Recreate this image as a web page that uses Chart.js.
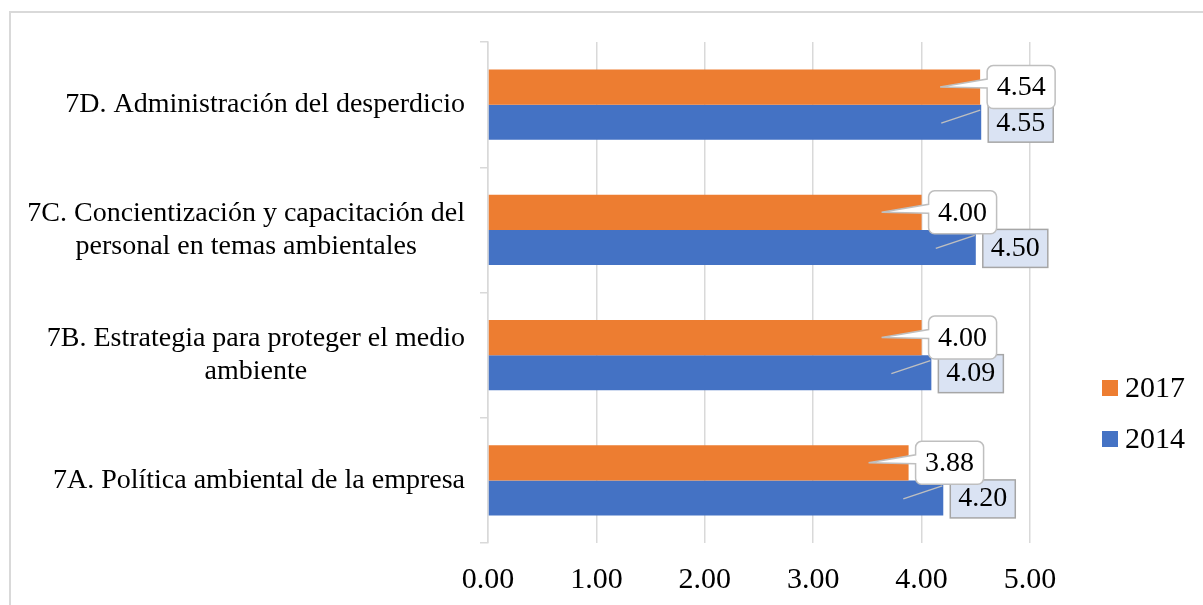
<!DOCTYPE html>
<html>
<head>
<meta charset="utf-8">
<script src="https://cdn.jsdelivr.net/npm/chart.js@4.4.1/dist/chart.umd.min.js"></script>
<style>
  html, body { margin: 0; padding: 0; background: #fff; }
  #wrap { width: 1203px; height: 605px; }
</style>
</head>
<body>
<div id="wrap"><canvas id="grafico"></canvas></div>
<script>
var categorias = [
    ['7D. Administración del desperdicio'],
    ['7C. Concientización y capacitación del', 'personal en temas ambientales'],
    ['7B. Estrategia para proteger el medio', 'ambiente'],
    ['7A. Política ambiental de la empresa']
];
var valores2017 = [4.54, 4.00, 4.00, 3.88];
var valores2014 = [4.55, 4.50, 4.09, 4.20];
var ticksX = [0, 1, 2, 3, 4, 5];

var FUENTE = '"Liberation Serif", "Times New Roman", serif';

// borde exterior gris claro
var bordeExterior = {
    id: 'bordeExterior',
    beforeDraw: function(chart) {
        var c = chart.ctx;
        c.save();
        c.fillStyle = '#fff';
        c.fillRect(0, 0, chart.width, chart.height);
        c.strokeStyle = '#d9d9d9';
        c.lineWidth = 2;
        c.strokeRect(10, 12, 1400, 800);
        c.restore();
    }
};

// etiquetas del eje Y, cada linea centrada en su bloque
var etiquetasY = {
    id: 'etiquetasY',
    afterDraw: function(chart) {
        var c = chart.ctx, y = chart.scales.y;
        c.save();
        c.font = '28px ' + FUENTE;
        c.fillStyle = '#000';
        c.textAlign = 'center';
        c.textBaseline = 'middle';
        var alto = 33;
        categorias.forEach(function(lineas, i) {
            var ancho = 0;
            lineas.forEach(function(l) { ancho = Math.max(ancho, c.measureText(l).width); });
            var cx = 465 - ancho / 2;
            var cy = y.getPixelForTick(i) - (lineas.length - 1) * alto / 2;
            lineas.forEach(function(l, k) { c.fillText(l, cx, cy + k * alto); });
        });
        c.restore();
    }
};

function rectRedondo(c, l, t, w, h, r) {
    c.moveTo(l + r, t);
    c.lineTo(l + w - r, t);
    c.arcTo(l + w, t, l + w, t + r, r);
    c.lineTo(l + w, t + h - r);
    c.arcTo(l + w, t + h, l + w - r, t + h, r);
    c.lineTo(l + r, t + h);
    c.arcTo(l, t + h, l, t + h - r, r);
}

// etiquetas de datos tipo llamada
var llamadas = {
    id: 'llamadas',
    afterDatasetsDraw: function(chart) {
        var c = chart.ctx;
        c.save();
        c.font = '28px ' + FUENTE;
        c.textAlign = 'center';
        c.textBaseline = 'middle';

        // 2014: caja azul clara con linea guia
        chart.getDatasetMeta(1).data.forEach(function(bar, i) {
            var x = bar.x, cy = bar.y;
            c.strokeStyle = '#bfbfbf';
            c.lineWidth = 1.5;
            c.beginPath();
            c.moveTo(x - 40, cy + 1);
            c.lineTo(x - 1, cy - 12);
            c.stroke();
            var l = x + 7, t = cy - 18, w = 65, h = 38;
            c.fillStyle = '#dae3f3';
            c.fillRect(l, t, w, h);
            c.strokeStyle = '#a6a6a6';
            c.strokeRect(l, t, w, h);
            c.fillStyle = '#000';
            c.fillText(valores2014[i].toFixed(2), l + w / 2, cy + 1);
        });

        // 2017: globo blanco con punta
        chart.getDatasetMeta(0).data.forEach(function(bar, i) {
            var x = bar.x, cy = bar.y;
            var l = x + 7, t = cy - 21.5, w = 68, h = 43, r = 6;
            c.beginPath();
            rectRedondo(c, l, t, w, h, r);
            c.lineTo(l, cy + 1);
            c.lineTo(x - 40, cy);
            c.lineTo(l, cy - 8);
            c.lineTo(l, t + r);
            c.arcTo(l, t, l + r, t, r);
            c.closePath();
            c.fillStyle = '#fff';
            c.fill();
            c.strokeStyle = '#bfbfbf';
            c.lineWidth = 1.5;
            c.stroke();
            c.fillStyle = '#000';
            c.fillText(valores2017[i].toFixed(2), l + w / 2, cy + 1);
        });
        c.restore();
    }
};

// leyenda a la derecha
var leyenda = {
    id: 'leyenda',
    afterDraw: function(chart) {
        var c = chart.ctx;
        c.save();
        c.font = '30px ' + FUENTE;
        c.textAlign = 'left';
        c.textBaseline = 'middle';
        var filas = [388, 439];
        chart.data.datasets.forEach(function(ds, i) {
            c.fillStyle = ds.backgroundColor;
            c.fillRect(1102, filas[i] - 8, 16, 16);
            c.fillStyle = '#000';
            c.fillText(ds.label, 1125, filas[i] + 1);
        });
        c.restore();
    }
};

var ctx = document.getElementById('grafico').getContext('2d');
var grafico = new Chart(ctx, {
    type: 'bar',
    data: {
        labels: categorias,
        datasets: [{
            label: '2017',
            data: valores2017,
            backgroundColor: '#ED7D31'
        }, {
            label: '2014',
            data: valores2014,
            backgroundColor: '#4472C4'
        }]
    },
    options: {
        indexAxis: 'y',
        responsive: true,
        maintainAspectRatio: false,
        animation: false,
        layout: {
            padding: { top: 42, right: 173, left: 0, bottom: 0 }
        },
        datasets: {
            bar: { categoryPercentage: 0.56, barPercentage: 1.0 }
        },
        scales: {
            x: {
                min: 0,
                max: 5,
                afterBuildTicks: function(scale) {
                    scale.ticks = ticksX.map(function(v) { return { value: v }; });
                },
                afterFit: function(scale) { scale.height = 62; },
                ticks: {
                    padding: 19,
                    color: '#000',
                    font: { family: FUENTE, size: 30 },
                    maxRotation: 0,
                    callback: function(v) { return Number(v).toFixed(2); }
                },
                grid: { color: '#d9d9d9', lineWidth: 1.5, drawTicks: false },
                border: { display: false }
            },
            y: {
                afterFit: function(scale) { scale.width = 488; },
                ticks: { display: false },
                grid: {
                    offset: true,
                    drawOnChartArea: false,
                    color: '#d9d9d9',
                    lineWidth: 1.5,
                    tickLength: 8
                },
                border: { color: '#d9d9d9', width: 1.5 }
            }
        },
        plugins: {
            legend: { display: false },
            tooltip: { enabled: false }
        }
    },
    plugins: [bordeExterior, etiquetasY, llamadas, leyenda]
});
</script>
</body>
</html>
